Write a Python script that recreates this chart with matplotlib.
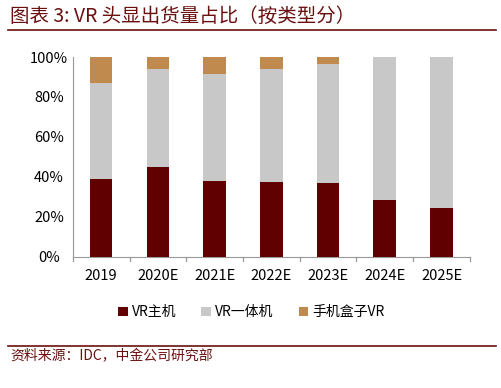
import numpy as np
import matplotlib
matplotlib.use('Agg')
import matplotlib.pyplot as plt
from matplotlib.lines import Line2D

plt.rcParams['font.family'] = ['Noto Sans CJK SC', 'DejaVu Sans']

# ─── 数据 ───
years = ['2019', '2020E', '2021E', '2022E', '2023E', '2024E', '2025E']
pc_vr = [39.2, 45.0, 38.2, 37.7, 37.2, 28.5, 24.7]          # VR主机
standalone = [47.6, 48.8, 53.4, 56.3, 59.3, 71.3, 75.3]     # VR一体机
mobile_box = [13.2, 6.2, 8.4, 6.0, 3.5, 0.2, 0.0]           # 手机盒子VR
series_names = ['VR主机', 'VR一体机', '手机盒子VR']
yticks = [0, 20, 40, 60, 80, 100]

C_MAIN = '#600000'
C_ALL = '#C8C8C8'
C_BOX = '#C08A4E'
C_TITLE = '#6B1010'

fig = plt.figure(figsize=(5.02, 3.88), dpi=100)
ax = fig.add_axes([0.145, 0.338, 0.791, 0.515])

x = np.arange(len(years))
w = 0.4
ax.bar(x, pc_vr, w, color=C_MAIN, label=series_names[0], zorder=3)
ax.bar(x, standalone, w, bottom=pc_vr, color=C_ALL, label=series_names[1], zorder=3)
bot2 = np.array(pc_vr) + np.array(standalone)
ax.bar(x, mobile_box, w, bottom=bot2, color=C_BOX, label=series_names[2], zorder=3)

ax.set_xlim(-0.5, len(years) - 0.5)
ax.set_ylim(0, 100)
ax.set_yticks(yticks)
ax.set_yticklabels([f'{v}%' for v in yticks], fontsize=10.5, ha='center')
ax.tick_params(axis='y', length=0, pad=17)
ax.set_xticks(x)
ax.set_xticklabels(years, fontsize=10.5)
ax.tick_params(axis='x', length=0, pad=9)
# 分类边界刻度
for b in np.arange(-0.5, len(years), 1.0):
    ax.plot([b, b], [0, -2.2], color='#999999', lw=0.9, clip_on=False)

for s in ['top', 'right']:
    ax.spines[s].set_visible(False)
ax.spines['left'].set_color('#999999')
ax.spines['bottom'].set_color('#999999')

ax.legend(loc='upper center', bbox_to_anchor=(0.45, -0.18), ncol=3, frameon=False,
          fontsize=10, handlelength=0.7, handleheight=0.7, handletextpad=0.3,
          columnspacing=1.8)

# 标题与来源
fig.text(0.02, 0.958, '图表 3: VR 头显出货量占比（按类型分）', fontsize=14,
         color=C_TITLE, style='italic', va='center')
fig.add_artist(Line2D([0.016, 0.988], [0.922, 0.922], color=C_TITLE, lw=1.2))
fig.add_artist(Line2D([0.016, 0.988], [0.108, 0.108], color=C_TITLE, lw=1.2))
fig.text(0.02, 0.081, '资料来源：IDC，中金公司研究部', fontsize=10,
         color=C_TITLE, style='italic', va='center')

fig.savefig('out.png', dpi=100)
